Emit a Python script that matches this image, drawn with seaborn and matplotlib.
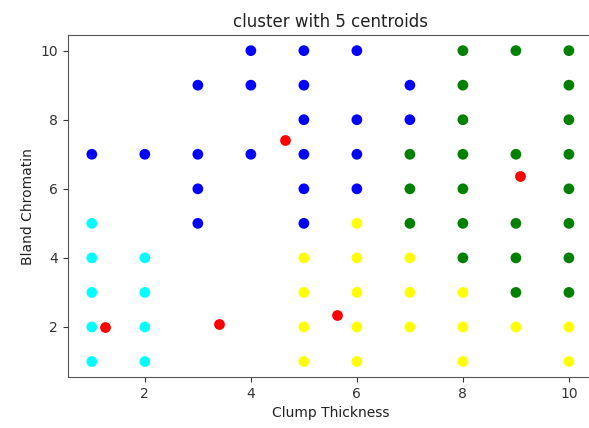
import matplotlib
matplotlib.use("Agg")
import matplotlib.pyplot as plt
import seaborn as sns
import pandas as pd

# Cluster members (Clump Thickness, Bland Chromatin)
blue_x = [4, 5, 6, 3, 4, 5, 7, 5, 6, 7, 1, 2, 3, 4, 5, 6, 3, 5, 6, 3, 5]
blue_y = [10, 10, 10, 9, 9, 9, 9, 8, 8, 8, 7, 7, 7, 7, 7, 7, 6, 6, 6, 5, 5]

cyan_x = [1, 1, 2, 1, 2, 1, 2, 1, 2]
cyan_y = [5, 4, 4, 3, 3, 2, 2, 1, 1]

yellow_x = [5, 5, 5, 5, 6, 6, 6, 6, 6, 7, 7, 7, 8, 8, 8, 9, 10, 10]
yellow_y = [4, 3, 2, 1, 5, 4, 3, 2, 1, 4, 3, 2, 3, 2, 1, 2, 2, 1]

green_x = [8, 9, 10, 8, 10, 8, 10, 7, 8, 9, 10, 7, 8, 10, 7, 8, 9, 10, 8, 9, 10, 9, 10]
green_y = [10, 10, 10, 9, 9, 8, 8, 7, 7, 7, 7, 6, 6, 6, 5, 5, 5, 5, 4, 4, 4, 3, 3]

centroid_x = [1.25, 3.4, 4.65, 5.63, 9.07]
centroid_y = [2.0, 2.08, 7.4, 2.36, 6.36]

cluster_names = ["blue", "cyan", "yellow", "green"]
cluster_colors = {"blue": "blue", "cyan": "cyan", "yellow": "yellow", "green": "green"}

rows = []
for name, xs, ys in zip(cluster_names,
                        [blue_x, cyan_x, yellow_x, green_x],
                        [blue_y, cyan_y, yellow_y, green_y]):
    for x, y in zip(xs, ys):
        rows.append({"Clump Thickness": x, "Bland Chromatin": y, "cluster": name})
df = pd.DataFrame(rows)
cent = pd.DataFrame({"Clump Thickness": centroid_x, "Bland Chromatin": centroid_y})

fig = plt.figure(figsize=(5.89, 4.28), dpi=100)
ax = fig.add_axes([0.1154, 0.119, 0.891, 0.799])

sns.scatterplot(data=df, x="Clump Thickness", y="Bland Chromatin", hue="cluster",
                palette=cluster_colors, s=60, linewidth=0, legend=False, ax=ax)
sns.scatterplot(data=cent, x="Clump Thickness", y="Bland Chromatin", color="red",
                s=60, linewidth=0, legend=False, ax=ax)

ax.set_xlim(0.55, 10.45)
ax.set_ylim(0.55, 10.45)
ax.set_xticks([2, 4, 6, 8, 10])
ax.set_yticks([2, 4, 6, 8, 10])
ax.tick_params(labelsize=10, colors="#333333")
for s in ax.spines.values():
    s.set_color("#555555")
ax.set_title("cluster with 5 centroids", fontsize=12, color="#222222")
ax.set_xlabel("Clump Thickness", fontsize=10, color="#222222")
ax.set_ylabel("Bland Chromatin", fontsize=10, color="#222222")

fig.savefig("out.png", dpi=100)
